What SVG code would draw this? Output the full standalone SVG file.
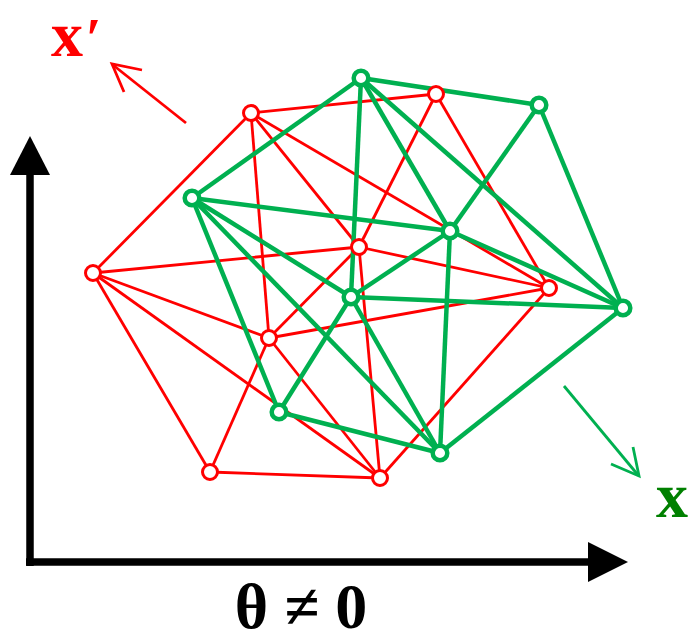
<svg xmlns="http://www.w3.org/2000/svg" width="689" height="635" viewBox="0 0 689 635">
<style>
.re{stroke:#ff0000;stroke-width:2.8;fill:none}
.ge{stroke:#00b050;stroke-width:4.5;fill:none}
.rn{stroke:#ff0000;stroke-width:3;fill:#ffffff}
.gn{stroke:#00b050;stroke-width:4.5;fill:#ffffff}
.ax{stroke:#000;stroke-width:7.5;fill:none}
.lbl{font-family:"Liberation Serif","Times New Roman",serif;font-weight:bold}
</style>
<rect width="689" height="635" fill="#ffffff"/>
<g id="axes">
<line class="ax" x1="30" y1="566" x2="30" y2="170"/>
<polygon points="30,136 10,175 50,175" fill="#000"/>
<line class="ax" x1="26" y1="562" x2="592" y2="562"/>
<polygon points="628,562 588,542 588,582" fill="#000"/>
</g>
<g id="connectors">
<g id="red-edges">
<line class="re" x1="251" y1="113" x2="436" y2="94"/>
<line class="re" x1="251" y1="113" x2="93" y2="273"/>
<line class="re" x1="251" y1="113" x2="269" y2="338"/>
<line class="re" x1="251" y1="113" x2="359" y2="247"/>
<line class="re" x1="251" y1="113" x2="549" y2="288"/>
<line class="re" x1="436" y1="94" x2="359" y2="247"/>
<line class="re" x1="436" y1="94" x2="549" y2="288"/>
<line class="re" x1="93" y1="273" x2="359" y2="247"/>
<line class="re" x1="93" y1="273" x2="269" y2="338"/>
<line class="re" x1="93" y1="273" x2="210" y2="472"/>
<line class="re" x1="93" y1="273" x2="380" y2="478"/>
<line class="re" x1="359" y1="247" x2="269" y2="338"/>
<line class="re" x1="359" y1="247" x2="380" y2="478"/>
<line class="re" x1="359" y1="247" x2="549" y2="288"/>
<line class="re" x1="549" y1="288" x2="269" y2="338"/>
<line class="re" x1="549" y1="288" x2="380" y2="478"/>
<line class="re" x1="269" y1="338" x2="210" y2="472"/>
<line class="re" x1="269" y1="338" x2="380" y2="478"/>
<line class="re" x1="210" y1="472" x2="380" y2="478"/>
</g>
<g id="green-edges">
<line class="ge" x1="361" y1="78" x2="539" y2="105"/>
<line class="ge" x1="361" y1="78" x2="192" y2="198"/>
<line class="ge" x1="361" y1="78" x2="450" y2="231"/>
<line class="ge" x1="361" y1="78" x2="351" y2="297"/>
<line class="ge" x1="361" y1="78" x2="623" y2="308"/>
<line class="ge" x1="539" y1="105" x2="450" y2="231"/>
<line class="ge" x1="539" y1="105" x2="623" y2="308"/>
<line class="ge" x1="192" y1="198" x2="450" y2="231"/>
<line class="ge" x1="192" y1="198" x2="351" y2="297"/>
<line class="ge" x1="192" y1="198" x2="279" y2="412"/>
<line class="ge" x1="192" y1="198" x2="440" y2="453"/>
<line class="ge" x1="450" y1="231" x2="351" y2="297"/>
<line class="ge" x1="450" y1="231" x2="623" y2="308"/>
<line class="ge" x1="450" y1="231" x2="440" y2="453"/>
<line class="ge" x1="351" y1="297" x2="623" y2="308"/>
<line class="ge" x1="351" y1="297" x2="279" y2="412"/>
<line class="ge" x1="351" y1="297" x2="440" y2="453"/>
<line class="ge" x1="623" y1="308" x2="440" y2="453"/>
<line class="ge" x1="279" y1="412" x2="440" y2="453"/>
</g>
<g id="direction-arrows">
<line class="re" x1="186" y1="123" x2="113" y2="65"/>
<polyline class="re" points="142,70 112,64 124,92"/>
<line stroke="#00b050" stroke-width="2.8" x1="564" y1="386" x2="638" y2="475"/>
<polyline stroke="#00b050" stroke-width="2.8" fill="none" points="611,464 639,476 633,447"/>
</g>
</g>
<g id="red-nodes">
<g id="r1"><circle class="rn" cx="251" cy="113" r="7.5"/></g>
<g id="r2"><circle class="rn" cx="436" cy="94" r="7.5"/></g>
<g id="r3"><circle class="rn" cx="93" cy="273" r="7.5"/></g>
<g id="r4"><circle class="rn" cx="359" cy="247" r="7.5"/></g>
<g id="r5"><circle class="rn" cx="549" cy="288" r="7.5"/></g>
<g id="r6"><circle class="rn" cx="269" cy="338" r="7.5"/></g>
<g id="r7"><circle class="rn" cx="210" cy="472" r="7.5"/></g>
<g id="r8"><circle class="rn" cx="380" cy="478" r="7.5"/></g>
</g>
<g id="green-nodes">
<g id="g1"><circle class="gn" cx="361" cy="78" r="7.3"/></g>
<g id="g2"><circle class="gn" cx="539" cy="105" r="7.3"/></g>
<g id="g3"><circle class="gn" cx="192" cy="198" r="7.3"/></g>
<g id="g4"><circle class="gn" cx="450" cy="231" r="7.3"/></g>
<g id="g5"><circle class="gn" cx="351" cy="297" r="7.3"/></g>
<g id="g6"><circle class="gn" cx="623" cy="308" r="7.3"/></g>
<g id="g7"><circle class="gn" cx="279" cy="412" r="7.3"/></g>
<g id="g8"><circle class="gn" cx="440" cy="453" r="7.3"/></g>
</g>
<g id="labels">
<text class="lbl" x="51" y="56" font-size="64" fill="#ff0000">x</text>
<text class="lbl" x="85" y="58" font-size="56" fill="#ff0000" font-style="italic" font-weight="normal">′</text>
<text class="lbl" x="656" y="517" font-size="64" fill="#008000">x</text>
<text class="lbl" x="301" y="628" font-size="64" fill="#000" text-anchor="middle">θ ≠ 0</text>
</g>
</svg>
